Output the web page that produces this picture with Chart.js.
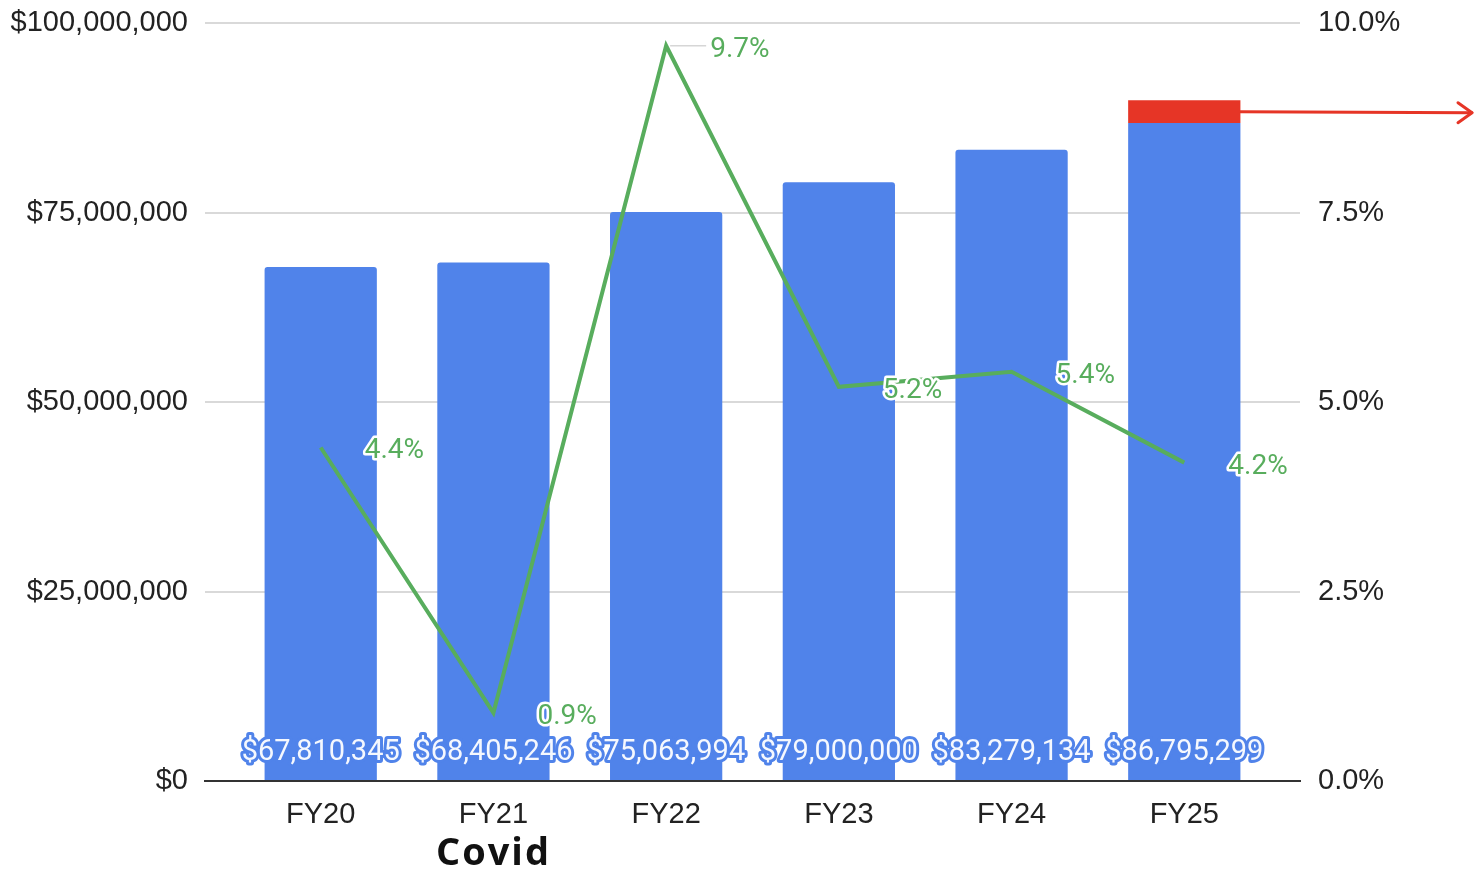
<!DOCTYPE html>
<html>
<head>
<meta charset="utf-8">
<script src="https://cdn.jsdelivr.net/npm/chart.js@4.4.1/dist/chart.umd.min.js"></script>
<style>
  html, body { margin: 0; padding: 0; background: #fff; }
  #wrap { width: 1476px; height: 871px; position: relative; }
</style>
</head>
<body>
<div id="wrap"><canvas id="chart" width="1476" height="871"></canvas></div>
<script>
// Fiscal years
const categories = ['FY20', 'FY21', 'FY22', 'FY23', 'FY24', 'FY25'];
// Annual revenue (USD)
const revenue = [67810345, 68405246, 75063994, 79000000, 83279134, 86795299];
// Extra amount stacked on the last year (highlighted in red)
const addition = [null, null, null, null, null, 3000000];
// Year-over-year increase (%)
const increase = [4.4, 0.9, 9.7, 5.2, 5.4, 4.2];
// Left and right axis tick values
const moneyTicks = [0, 25000000, 50000000, 75000000, 100000000];
const pctTicks = [0, 2.5, 5, 7.5, 10];
// Note under a category
const noteIndex = 1;
const noteText = 'Covid';

const BLUE = '#5083ea';
const RED = '#e63526';
const GREEN = '#58ad5d';
const LABEL_FONT = 'Roboto, "Liberation Sans", Arial, sans-serif';
const AXIS_FONT = '"Liberation Sans", Arial, sans-serif';

const fmtMoney = v => '$' + Math.round(v).toLocaleString('en-US');

const labelsPlugin = {
  id: 'labelsPlugin',
  afterDatasetsDraw(chart) {
    const ctx = chart.ctx;
    const x = chart.scales.x, y = chart.scales.y, y1 = chart.scales.y1;
    const base = y.getPixelForValue(0);
    ctx.save();
    ctx.lineJoin = 'round';

    // Revenue labels near the bottom of each bar
    ctx.font = '29px ' + LABEL_FONT;
    ctx.textAlign = 'center';
    ctx.textBaseline = 'middle';
    revenue.forEach((v, i) => {
      const px = x.getPixelForValue(i);
      const py = base - 28;
      const t = fmtMoney(v);
      ctx.lineWidth = 6;
      ctx.strokeStyle = BLUE;
      ctx.strokeText(t, px, py);
      ctx.fillStyle = '#f5f8fe';
      ctx.fillText(t, px, py);
    });

    // Percentage labels to the right of each line point
    const peak = increase.indexOf(Math.max(...increase));
    ctx.font = '28px ' + LABEL_FONT;
    ctx.textAlign = 'left';
    increase.forEach((v, i) => {
      const px = x.getPixelForValue(i);
      const py = y1.getPixelForValue(v);
      const t = v.toFixed(1) + '%';
      if (i === peak) {
        ctx.strokeStyle = '#d6d6d6';
        ctx.lineWidth = 1.5;
        ctx.beginPath();
        ctx.moveTo(px + 4, py);
        ctx.lineTo(px + 40, py);
        ctx.stroke();
      }
      ctx.lineWidth = 5;
      ctx.strokeStyle = '#ffffff';
      ctx.strokeText(t, px + 44, py + 4);
      ctx.fillStyle = GREEN;
      ctx.fillText(t, px + 44, py + 4);
    });

    // Arrow from the highlighted block to the right edge
    const li = addition.length - 1;
    const bar = chart.getDatasetMeta(1).data[0];
    if (bar) {
      const ay = y.getPixelForValue(revenue[li] + addition[li] / 2);
      const ax0 = bar.x + bar.width / 2;
      const ax1 = chart.width - 4;
      ctx.strokeStyle = RED;
      ctx.lineWidth = 3;
      ctx.lineCap = 'round';
      ctx.beginPath();
      ctx.moveTo(ax0, ay);
      ctx.lineTo(ax1, ay + 1);
      ctx.stroke();
      ctx.beginPath();
      ctx.moveTo(ax1 - 14, ay - 9);
      ctx.lineTo(ax1, ay + 1);
      ctx.lineTo(ax1 - 14, ay + 11);
      ctx.stroke();
    }

    // Note under the category label
    ctx.font = 'bold 38px "Open Sans", Lato, sans-serif';
    if ('letterSpacing' in ctx) ctx.letterSpacing = '2px';
    ctx.textAlign = 'center';
    ctx.fillStyle = '#111';
    ctx.fillText(noteText, x.getPixelForValue(noteIndex), base + 73);
    ctx.restore();
  }
};

const noVerticalPadding = s => { s.paddingTop = 0; s.paddingBottom = 0; };

new Chart(document.getElementById('chart'), {
  data: {
    datasets: [
      {
        type: 'bar',
        label: 'Revenue',
        data: revenue.map((v, i) => ({ x: i, y: v })),
        backgroundColor: BLUE,
        barPercentage: 0.65,
        categoryPercentage: 1,
        borderRadius: 3,
        borderSkipped: 'start',
        yAxisID: 'y',
        order: 2
      },
      {
        type: 'bar',
        label: 'Addition',
        data: addition.map((v, i) => ({ x: i, y: v })).filter(d => d.y !== null),
        backgroundColor: RED,
        barPercentage: 0.65,
        categoryPercentage: 1,
        borderRadius: 0,
        yAxisID: 'y',
        order: 2
      },
      {
        type: 'line',
        label: 'Increase',
        data: increase.map((v, i) => ({ x: i, y: v })),
        borderColor: GREEN,
        borderWidth: 4,
        pointRadius: 0,
        tension: 0,
        yAxisID: 'y1',
        order: 1
      }
    ]
  },
  options: {
    responsive: false,
    animation: false,
    layout: { padding: { top: 23, left: 0, right: 0, bottom: 0 } },
    plugins: { legend: { display: false }, tooltip: { enabled: false } },
    scales: {
      x: {
        type: 'linear',
        offset: false,
        min: -0.67,
        max: 5.67,
        stacked: true,
        afterBuildTicks: s => { s.ticks = categories.map((c, i) => ({ value: i })); },
        afterFit: s => { s.height = 90; },
        grid: { display: false, drawTicks: false },
        border: { display: true, color: '#333333', width: 2 },
        ticks: {
          padding: 17,
          color: '#222222',
          font: { family: AXIS_FONT, size: 29 },
          callback: v => categories[v] ?? ''
        }
      },
      y: {
        position: 'left',
        min: 0,
        max: 100000000,
        stacked: true,
        afterBuildTicks: s => { s.ticks = moneyTicks.map(v => ({ value: v })); },
        afterFit: s => { s.width = 205; noVerticalPadding(s); },
        grid: {
          drawTicks: false,
          lineWidth: 2,
          color: c => c.tick && c.tick.value === 0 ? 'rgba(0,0,0,0)' : '#d9d9d9'
        },
        border: { display: false },
        ticks: {
          padding: 17,
          color: '#222222',
          font: { family: AXIS_FONT, size: 29 },
          callback: v => fmtMoney(v)
        }
      },
      y1: {
        position: 'right',
        min: 0,
        max: 10,
        afterBuildTicks: s => { s.ticks = pctTicks.map(v => ({ value: v })); },
        afterFit: s => { s.width = 176; noVerticalPadding(s); },
        grid: { display: false, drawTicks: false },
        border: { display: false },
        ticks: {
          padding: 18,
          color: '#222222',
          font: { family: AXIS_FONT, size: 29 },
          callback: v => v.toFixed(1) + '%'
        }
      }
    }
  },
  plugins: [labelsPlugin]
});
</script>
</body>
</html>
